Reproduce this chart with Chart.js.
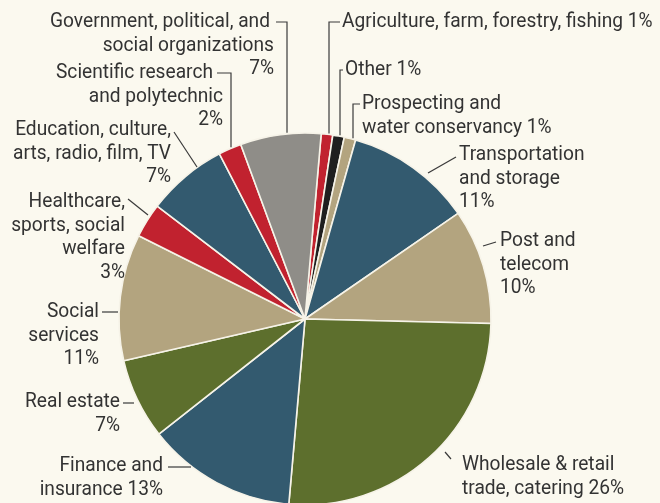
<!doctype html>
<html>

<head>
  <title>Employment by sector</title>
  <script src="https://cdn.jsdelivr.net/npm/chart.js@4.4.0/dist/chart.umd.min.js"></script>
  <style>
    html, body {
      margin: 0;
      padding: 0;
      background: #fbf9ef;
      overflow: hidden;
    }
    canvas {
      display: block;
    }
  </style>
</head>

<body>
  <canvas id="myChart" width="660" height="503"></canvas>

  <script>
    // slices run clockwise from just right of 12 o'clock
    var sectors = [
      'Agriculture, farm, forestry, fishing',
      'Other',
      'Prospecting and water conservancy',
      'Transportation and storage',
      'Post and telecom',
      'Wholesale & retail trade, catering',
      'Finance and insurance',
      'Real estate',
      'Social services',
      'Healthcare, sports, social welfare',
      'Education, culture, arts, radio, film, TV',
      'Scientific research and polytechnic',
      'Government, political, and social organizations'
    ];
    var shares = [1, 1, 1, 11, 10, 26, 13, 7, 11, 3, 7, 2, 7];

    var RED = '#c1222f', BLACK = '#1f1f1f', TAN = '#b3a47f',
        BLUE = '#335a6f', GREEN = '#5d6f2d', GRAY = '#8f8d88';
    var sliceColors = [RED, BLACK, TAN, BLUE, TAN, GREEN, BLUE, GREEN, TAN, RED, BLUE, RED, GRAY];

    // '#' is replaced by the share
    var labelLines = [
      ['Agriculture, farm, forestry, fishing #'],
      ['Other #'],
      ['Prospecting and', 'water conservancy #'],
      ['Transportation', 'and storage', '#'],
      ['Post and', 'telecom', '#'],
      ['Wholesale & retail', 'trade, catering #'],
      ['Finance and', 'insurance #'],
      ['Real estate', '#'],
      ['Social', 'services', '#'],
      ['Healthcare,', 'sports, social', 'welfare', '#'],
      ['Education, culture,', 'arts, radio, film, TV', '#'],
      ['Scientific research', 'and polytechnic', '#'],
      ['Government, political, and', 'social organizations', '#']
    ];

    // where each label sits and how its leader runs; drop = continue down to the rim
    var placement = [
      {x: 342, y: 22, align: 'left', leader: [[340, 22], [329, 22]], drop: true},
      {x: 345, y: 70, align: 'left', leader: [[343, 70], [340, 70]], drop: true},
      {x: 362, y: 104, align: 'left', leader: [[360, 104], [353, 104]], drop: true},
      {x: 459, y: 155, align: 'left', leader: [[456, 157], [428, 173]]},
      {x: 500, y: 241, align: 'left', leader: [[496, 242], [483, 246]]},
      {x: 462, y: 465, align: 'left', leader: [[451, 459], [445, 452]]},
      {x: 163, y: 466, align: 'right', leader: [[168, 467], [191, 467]]},
      {x: 120, y: 402, align: 'right', leader: [[123, 403], [134, 403]]},
      {x: 99, y: 312, align: 'right', leader: [[102, 312], [118, 312]]},
      {x: 125, y: 202, align: 'right', leader: [[128, 199], [148, 215]]},
      {x: 171, y: 130, align: 'right', leader: [[174, 132], [197, 167]]},
      {x: 223, y: 73, firstX: 213, align: 'right', leader: [[217, 73], [231, 73]], drop: true},
      {x: 274, y: 22, firstX: 270, align: 'right', leader: [[276, 22], [287, 22]], drop: true}
    ];

    var LABEL_FONT = '20px Roboto, "Liberation Sans", sans-serif';
    var LINE_HEIGHT = 23.5;

    var sectorLabels = {
      id: 'sectorLabels',
      afterDatasetsDraw: function(chart) {
        var ctx = chart.ctx;
        var arc = chart.getDatasetMeta(0).data[0];
        var cx = arc.x, cy = arc.y, r = arc.outerRadius;

        ctx.save();
        ctx.font = LABEL_FONT;
        // squeeze the sans face into a condensed look
        var squeeze = 220 / ctx.measureText('Government, political, and').width;
        ctx.fillStyle = '#333333';
        ctx.strokeStyle = '#3a3a3a';
        ctx.lineWidth = 1.2;
        ctx.textBaseline = 'middle';

        placement.forEach(function(p, i) {
          ctx.textAlign = p.align;
          labelLines[i].forEach(function(line, k) {
            var text = line.replace('#', shares[i] + '%');
            var x = (k === 0 && p.firstX) ? p.firstX : p.x;
            ctx.save();
            ctx.translate(x, p.y + k * LINE_HEIGHT);
            ctx.scale(squeeze, 1);
            ctx.fillText(text, 0, 0);
            ctx.restore();
          });

          var pts = p.leader.slice();
          if (p.drop) {
            var last = pts[pts.length - 1];
            var rimY = cy - Math.sqrt(r * r - Math.pow(last[0] - cx, 2));
            pts.push([last[0], rimY - 1]);
          }
          ctx.beginPath();
          ctx.moveTo(pts[0][0], pts[0][1]);
          for (var j = 1; j < pts.length; j++) {
            ctx.lineTo(pts[j][0], pts[j][1]);
          }
          ctx.stroke();
        });
        ctx.restore();
      }
    };

    var config = {
      type: 'pie',
      data: {
        labels: sectors,
        datasets: [{
          data: shares,
          backgroundColor: sliceColors,
          borderColor: '#f6f3e8',
          borderWidth: 1.6,
          clip: false
        }]
      },
      options: {
        responsive: false,
        animation: false,
        rotation: 5,
        radius: 186,
        layout: {
          padding: {left: 0, right: 50, top: 135, bottom: 0}
        },
        plugins: {
          legend: {
            display: false
          },
          tooltip: {
            enabled: false
          }
        }
      },
      plugins: [sectorLabels]
    };

    var ctx = document.getElementById('myChart').getContext('2d');
    window.myChart = new Chart(ctx, config);
  </script>
</body>

</html>
